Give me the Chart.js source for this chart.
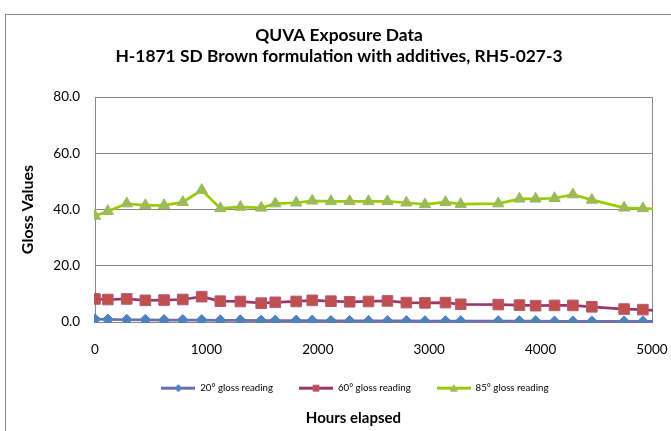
<!DOCTYPE html>
<html>
<head>
<meta charset="utf-8">
<script src="https://cdn.jsdelivr.net/npm/chart.js@4.4.1/dist/chart.umd.min.js"></script>
<style>
  html, body { margin: 0; padding: 0; background: #fff; }
  #wrap { width: 671px; height: 431px; }
</style>
</head>
<body>
<div id="wrap"><canvas id="chart" width="671" height="431"></canvas></div>
<script>
// hours of exposure (last point sits just past the axis end, clipped)
const hours = [0, 115, 285, 452, 620, 788, 958, 1125, 1305, 1492, 1618, 1806, 1950, 2118, 2286,
               2455, 2625, 2795, 2962, 3146, 3283, 3620, 3810, 3955, 4125, 4290, 4460, 4750, 4918, 5090];
const gloss20 = [1.0, 0.9, 0.8, 0.8, 0.7, 0.7, 0.7, 0.6, 0.6, 0.5, 0.5, 0.5, 0.5, 0.4, 0.4,
                 0.4, 0.4, 0.4, 0.3, 0.3, 0.3, 0.3, 0.3, 0.3, 0.2, 0.2, 0.2, 0.2, 0.2, 0.2];
const gloss60 = [8.2, 8.0, 8.2, 7.7, 7.8, 8.0, 9.0, 7.4, 7.3, 6.7, 7.0, 7.3, 7.7, 7.4, 7.2,
                 7.3, 7.5, 6.9, 6.8, 6.9, 6.3, 6.2, 6.0, 5.8, 5.9, 5.9, 5.4, 4.6, 4.4, 3.9];
const gloss85 = [37.7, 39.4, 42.1, 41.5, 41.5, 42.6, 46.9, 40.4, 40.9, 40.6, 42.1, 42.4, 43.1, 42.9, 42.9,
                 42.9, 42.9, 42.4, 41.8, 42.6, 41.9, 42.1, 43.8, 43.8, 44.0, 45.3, 43.4, 40.6, 40.4, 40.0];
const seriesNames = ["20° gloss reading", "60° gloss reading", "85° gloss reading"];
const titleLines = ["QUVA Exposure Data", "H-1871 SD Brown formulation with additives, RH5-027-3"];
const xTicks = [0, 1000, 2000, 3000, 4000, 5000];
const yTicks = [0, 20, 40, 60, 80];

const FONT = "Lato, 'Open Sans', sans-serif";
const AXIS_GRAY = "#858585";

const styles = [
  { line: "#6E6EAE", fill: "#4F81BD", border: "#4F81BD", shape: "rectRot", r: 5.5 },
  { line: "#9C3868", fill: "#C0504D", border: "#B65A78", shape: "rect", r: 7.5 },
  { line: "#99CC00", fill: "#9BBB59", border: "#9BBB59", shape: "triangle", r: 6.5 }
];

function legendIcon(st) {
  const c = document.createElement("canvas");
  c.width = 34; c.height = 9;
  const g = c.getContext("2d");
  g.strokeStyle = st.line; g.lineWidth = 3;
  g.beginPath(); g.moveTo(0, 4.5); g.lineTo(34, 4.5); g.stroke();
  g.fillStyle = st.fill; g.strokeStyle = st.border; g.lineWidth = 1;
  g.beginPath();
  if (st.shape === "rectRot") { g.moveTo(17, 1); g.lineTo(20.5, 4.5); g.lineTo(17, 8); g.lineTo(13.5, 4.5); g.closePath(); }
  else if (st.shape === "rect") { g.rect(14, 1.5, 6, 6); }
  else { g.moveTo(17, 1); g.lineTo(20.5, 7.5); g.lineTo(13.5, 7.5); g.closePath(); }
  g.fill(); g.stroke();
  return c;
}
const icons = styles.map(legendIcon);

function makeSet(label, values, st) {
  return {
    label,
    data: hours.map((h, i) => ({ x: h, y: values[i] })),
    borderColor: st.line,
    borderWidth: 2.75,
    backgroundColor: st.fill,
    pointBackgroundColor: st.fill,
    pointBorderColor: st.border,
    pointBorderWidth: 1,
    pointStyle: st.shape,
    pointRadius: st.r,
    pointHoverRadius: st.r,
    tension: 0,
    clip: 1
  };
}

new Chart(document.getElementById("chart"), {
  type: "line",
  data: {
    datasets: [
      makeSet(seriesNames[0], gloss20, styles[0]),
      makeSet(seriesNames[1], gloss60, styles[1]),
      makeSet(seriesNames[2], gloss85, styles[2])
    ]
  },
  options: {
    responsive: false,
    animation: false,
    devicePixelRatio: 1,
    layout: { padding: { left: 26, right: 19, top: 0, bottom: 2 } },
    plugins: {
      title: {
        display: true,
        text: titleLines,
        color: "#000",
        font: { family: FONT, size: 17.4, weight: "bold", lineHeight: "20.5px" },
        padding: { top: 25.25, bottom: 30.75 }
      },
      subtitle: {
        display: true,
        position: "bottom",
        fullSize: false,
        // trailing spaces nudge the centred text left, like the original
        text: "Hours elapsed" + " ".repeat(11),
        color: "#000",
        font: { family: FONT, size: 15, weight: "bold", lineHeight: "18px" },
        padding: { top: 6, bottom: 2 }
      },
      legend: {
        position: "bottom",
        fullSize: false,
        maxHeight: 52,
        labels: {
          usePointStyle: true,
          pointStyleWidth: 34,
          padding: 26,
          color: "#000",
          font: { family: FONT, size: 9.7 },
          generateLabels: chart => chart.data.datasets.map((ds, i) => ({
            text: ds.label + (i === 2 ? " ".repeat(15) : ""),
            pointStyle: icons[i],
            datasetIndex: i,
            hidden: false,
            lineWidth: 0,
            strokeStyle: "transparent",
            fillStyle: "transparent",
            fontColor: "#000"
          }))
        }
      },
      tooltip: { enabled: false }
    },
    scales: {
      x: {
        type: "linear",
        min: 0,
        max: 5000,
        afterBuildTicks: s => { s.ticks = xTicks.map(v => ({ value: v })); },
        afterFit: s => { s.height = 35.3; },
        grid: {
          drawTicks: true,
          tickLength: 18,
          tickColor: "rgba(0,0,0,0)",
          color: c => (c.tick && c.tick.value === 5000 ? AXIS_GRAY : "rgba(0,0,0,0)")
        },
        border: { display: true, color: AXIS_GRAY, width: 1 },
        ticks: {
          color: "#000",
          font: { family: FONT, size: 13.5 },
          padding: 2,
          maxRotation: 0,
          callback: v => String(v)
        }
      },
      y: {
        min: 0,
        max: 80,
        afterBuildTicks: s => { s.ticks = yTicks.map(v => ({ value: v })); },
        afterFit: s => { s.width = 69; },
        grid: { drawTicks: false, color: AXIS_GRAY, lineWidth: 1 },
        border: { display: true, color: AXIS_GRAY, width: 1 },
        ticks: {
          color: "#000",
          font: { family: FONT, size: 13.5 },
          padding: 15,
          callback: v => v.toFixed(1)
        },
        title: {
          display: true,
          text: "Gloss Values",
          color: "#000",
          font: { family: FONT, size: 16, weight: "bold" },
          padding: { top: -7.6, bottom: 0 }
        }
      }
    }
  },
  plugins: [{
    id: "frame",
    beforeDraw(chart) {
      const ctx = chart.ctx;
      ctx.save();
      ctx.fillStyle = "#fff";
      ctx.fillRect(0, 0, chart.width, chart.height);
      ctx.strokeStyle = "#8a8a8a";
      ctx.lineWidth = 1;
      ctx.strokeRect(5.5, 14.5, 700, 500);
      ctx.restore();
    }
  }]
});
</script>
</body>
</html>
